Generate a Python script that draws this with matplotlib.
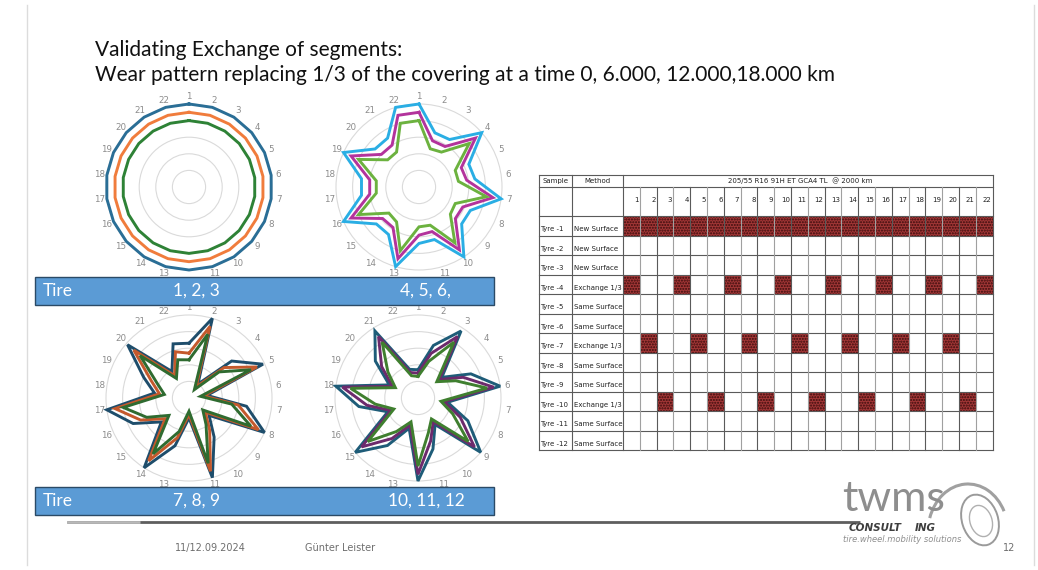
import numpy as np
import matplotlib
matplotlib.use("Agg")
import matplotlib.pyplot as plt
from matplotlib.patches import Rectangle, Circle, Ellipse, Arc

W, H = 1038, 570

# ---- data -------------------------------------------------------------
seg_labels = ["1", "2", "3", "4", "5", "6", "7", "8", "9", "10", "11",
              "12", "13", "14", "15", "16", "17", "18", "19", "20", "21", "22"]

# tyres 1, 2, 3 (new surface)
t123_a = [5.0, 5.0, 5.0, 5.0, 5.0, 5.0, 5.0, 5.0, 5.0, 5.0, 5.0,
          5.0, 5.0, 5.0, 5.0, 5.0, 5.0, 5.0, 5.0, 5.0, 5.0, 5.0]
t123_b = [4.5, 4.5, 4.5, 4.5, 4.5, 4.5, 4.5, 4.5, 4.5, 4.5, 4.5,
          4.5, 4.5, 4.5, 4.5, 4.5, 4.5, 4.5, 4.5, 4.5, 4.5, 4.5]
t123_c = [4.0, 4.0, 4.0, 4.0, 4.0, 4.0, 4.0, 4.0, 4.0, 4.0, 4.0,
          4.0, 4.0, 4.0, 4.0, 4.0, 4.0, 4.0, 4.0, 4.0, 4.0, 4.0]

# tyres 4, 5, 6
t456_a = [5.0, 3.4, 3.4, 5.0, 3.3, 3.4, 5.0, 3.4, 3.4, 5.0, 3.3,
          3.4, 5.0, 3.4, 3.4, 5.0, 3.5, 3.5, 5.0, 3.5, 3.5, 5.0]
t456_b = [4.5, 2.9, 2.9, 4.5, 2.8, 2.9, 4.5, 2.9, 2.9, 4.5, 2.8,
          2.9, 4.5, 2.9, 2.9, 4.5, 3.0, 3.0, 4.5, 3.0, 3.0, 4.5]
t456_c = [4.0, 2.4, 2.5, 4.0, 2.4, 2.4, 4.1, 2.4, 2.5, 4.0, 2.4,
          2.4, 4.0, 2.5, 2.4, 4.0, 2.6, 2.6, 4.0, 2.5, 2.5, 4.0]

# tyres 7, 8, 9
t789_a = [3.3, 5.0, 1.0, 3.4, 4.9, 1.1, 3.5, 5.0, 1.6, 2.8, 5.0,
          1.2, 3.0, 5.0, 2.2, 3.7, 5.0, 2.1, 3.0, 4.9, 1.9, 3.4]
t789_b = [2.7, 4.5, 0.8, 2.8, 4.5, 0.9, 3.0, 4.6, 1.3, 2.3, 4.6,
          1.0, 2.5, 4.5, 1.9, 3.2, 4.5, 1.8, 2.5, 4.4, 1.6, 2.9]
t789_c = [2.3, 4.0, 0.6, 2.4, 4.1, 0.7, 2.6, 4.1, 1.1, 1.9, 4.1,
          0.8, 2.1, 4.0, 1.6, 2.8, 4.0, 1.5, 2.1, 3.9, 1.4, 2.4]

# tyres 10, 11, 12
t101112_a = [1.7, 3.3, 4.8, 1.9, 3.5, 5.0, 1.8, 3.3, 5.0, 1.9, 3.2,
             5.0, 1.9, 3.4, 5.0, 2.0, 3.6, 5.0, 1.9, 3.4, 4.8, 1.8]
t101112_b = [1.5, 2.8, 4.4, 1.7, 3.0, 4.6, 1.6, 2.8, 4.5, 1.7, 2.7,
             4.6, 1.7, 2.9, 4.5, 1.8, 3.1, 4.6, 1.7, 2.9, 4.4, 1.6]
t101112_c = [1.3, 2.3, 4.0, 1.5, 2.5, 4.2, 1.4, 2.3, 4.0, 1.5, 2.2,
             4.1, 1.5, 2.4, 4.0, 1.6, 2.6, 4.1, 1.5, 2.4, 4.0, 1.4]

rings = [1, 2, 3, 4, 5]

# table
samples = ["Tyre -1", "Tyre -2", "Tyre -3", "Tyre -4", "Tyre -5", "Tyre -6",
           "Tyre -7", "Tyre -8", "Tyre -9", "Tyre -10", "Tyre -11", "Tyre -12"]
methods = ["New Surface", "New Surface", "New Surface", "Exchange 1/3",
           "Same Surface", "Same Surface", "Exchange 1/3", "Same Surface",
           "Same Surface", "Exchange 1/3", "Same Surface", "Same Surface"]
marked = [
    [1, 2, 3, 4, 5, 6, 7, 8, 9, 10, 11, 12, 13, 14, 15, 16, 17, 18, 19, 20, 21, 22],
    [], [],
    [1, 4, 7, 10, 13, 16, 19, 22],
    [], [],
    [2, 5, 8, 11, 14, 17, 20],
    [], [],
    [3, 6, 9, 12, 15, 18, 21],
    [], [],
]
spec = "205/55 R16 91H ET GCA4 TL  @ 2000 km"

# ---- figure -----------------------------------------------------------
fig = plt.figure(figsize=(W / 100, H / 100), dpi=100)
fig.patch.set_facecolor("white")

R_PX = 83.0   # pixel radius of value 5


def radar(cx, cy, series, colors, lw=2.1):
    L = 100
    ax = fig.add_axes([(cx - L) / W, 1 - (cy + L) / H, 2 * L / W, 2 * L / H])
    lim = L / R_PX * 5
    ax.set_xlim(-lim, lim)
    ax.set_ylim(-lim, lim)
    ax.axis("off")
    ang = np.arange(len(seg_labels)) * 2 * np.pi / len(seg_labels)
    for r in rings:
        ax.add_patch(Circle((0, 0), r, fill=False, ec="#dadada", lw=0.8))
    for s, c in zip(series, colors):
        v = np.array(s)
        x = np.append(v * np.sin(ang), v[0] * np.sin(ang[0]))
        y = np.append(v * np.cos(ang), v[0] * np.cos(ang[0]))
        ax.plot(x, y, color=c, lw=lw, solid_joinstyle="miter")
    for a, lab in zip(ang, seg_labels):
        if lab == "12":
            continue  # sits under the blue banner on the slide
        ax.text(5.45 * np.sin(a), 5.45 * np.cos(a), lab, ha="center",
                va="center", fontsize=6.3, color="#8c8c8c")
    return ax


radar(189, 187, [t123_a, t123_b, t123_c], ["#2a6e96", "#f07c3c", "#2e8236"])
radar(419, 187, [t456_a, t456_b, t456_c], ["#2aaee4", "#b3339c", "#6cb23f"])
radar(189, 398, [t789_a, t789_b, t789_c], ["#1e4d6b", "#c4592c", "#2f6b30"])
radar(418, 398, [t101112_a, t101112_b, t101112_c], ["#1e5c78", "#6c2a6c", "#3f7f2f"])

# ---- table ------------------------------------------------------------
tab = fig.add_axes([537 / W, 1 - 454 / H, (997 - 537) / W, (454 - 173) / H])
tab.set_xlim(537, 997)
tab.set_ylim(454, 173)
tab.axis("off")

x_s, x_m, x_0, cw = 539.0, 572.0, 623.0, 16.8
y_a, y_b, y_0, rh = 175.0, 187.0, 216.0, 19.5
n = len(seg_labels)
x_end = x_0 + n * cw
y_end = y_0 + len(samples) * rh
tf = ["Liberation Sans Narrow", "DejaVu Sans"]

for i, cells in enumerate(marked):
    for k in cells:
        tab.add_patch(Rectangle((x_0 + (k - 1) * cw, y_0 + i * rh), cw, rh,
                                facecolor="#a23636", edgecolor="#3a0c0c",
                                hatch="......", lw=0))

lc = "#5a5a5a"
tab.plot([x_s, x_end], [y_a, y_a], color=lc, lw=0.8)
tab.plot([x_s, x_end], [y_b, y_b], color=lc, lw=0.8)
for i in range(len(samples) + 1):
    tab.plot([x_s, x_end], [y_0 + i * rh, y_0 + i * rh], color=lc, lw=0.8)
tab.plot([x_s, x_s], [y_a, y_end], color=lc, lw=0.8)
tab.plot([x_m, x_m], [y_a, y_end], color=lc, lw=0.8)
for k in range(n + 1):
    top = y_a if k in (0, n) else y_b
    col = lc if k % 2 == 0 else "#a0a0a0"
    tab.plot([x_0 + k * cw, x_0 + k * cw], [top, y_end], color=col, lw=0.8)

tab.text((x_s + x_m) / 2, (y_a + y_b) / 2, "Sample", ha="center", va="center",
         fontsize=5, family=tf, color="#222222")
tab.text((x_m + x_0) / 2, (y_a + y_b) / 2, "Method", ha="center", va="center",
         fontsize=5, family=tf, color="#222222")
tab.text(800, (y_a + y_b) / 2, spec, ha="center", va="center",
         fontsize=5, family=tf, color="#222222")
for k, lab in enumerate(seg_labels):
    tab.text(x_0 + (k + 1) * cw - 1.2, 200, lab, ha="right", va="center",
             fontsize=5, family=tf, color="#222222")
for i, (s, m) in enumerate(zip(samples, methods)):
    yy = y_0 + i * rh + rh * 0.68
    tab.text(x_s + 1.5, yy, s, ha="left", va="center", fontsize=5,
             family=tf, color="#222222")
    tab.text(x_m + 1.5, yy, m, ha="left", va="center", fontsize=5,
             family=tf, color="#222222")

# ---- overlay: title, bars, footer, logo -------------------------------
ov = fig.add_axes([0, 0, 1, 1])
ov.set_zorder(10)
ov.patch.set_alpha(0)
ov.set_xlim(0, W)
ov.set_ylim(H, 0)
ov.axis("off")

ov.text(95, 50, "Validating Exchange of segments:", fontsize=15,
        family="Lato", va="center", color="#111111")
ov.text(95, 75, "Wear pattern replacing 1/3 of the covering at a time 0, "
        "6.000, 12.000,18.000 km", fontsize=15, family="Lato",
        va="center", color="#111111")

bars = [(277, "1, 2, 3", "4, 5, 6,", 400), (487, "7, 8, 9", "10, 11, 12", 388)]
for y, lab1, lab2, x2 in bars:
    ov.add_patch(Rectangle((35, y), 459, 28, facecolor="#5b9bd5",
                           edgecolor="#2b4a66", lw=1.0))
    ov.text(43, y + 14, "Tire", color="white", fontsize=12.5, family="Lato",
            va="center")
    ov.text(173, y + 14, lab1, color="white", fontsize=12.5, family="Lato",
            va="center")
    ov.text(x2, y + 14, lab2, color="white", fontsize=12.5, family="Lato",
            va="center")

# separator line
ov.plot([67, 860], [522, 522], color="#5e5e5e", lw=2.0, solid_capstyle="butt")
ov.plot([67, 140], [522, 522], color="#b8b8b8", lw=2.0, solid_capstyle="butt")

# slide border
ov.plot([27, 27], [5, 565], color="#dcdcdc", lw=1)
ov.plot([1034, 1034], [5, 565], color="#dcdcdc", lw=1)

# footer
ov.text(175, 548, "11/12.09.2024", fontsize=7, color="#6e6e6e", va="center")
ov.text(305, 548, "Günter Leister", fontsize=7, color="#6e6e6e", va="center")
ov.text(1003, 548, "12", fontsize=7, color="#6e6e6e", va="center")

# logo
ov.text(842, 511, "twms", fontsize=31, family="Lato", color="#8e8e8e",
        va="baseline")
ov.text(849, 528, "CONSULT", fontsize=7.5, style="italic", weight="bold",
        color="#3e3e3e", va="center")
ov.text(915, 528, "ING", fontsize=7.5, style="italic", weight="bold",
        color="#3e3e3e", va="center")
ov.text(843, 540, "tire.wheel.mobility solutions", fontsize=6, style="italic",
        color="#8e8e8e", va="center")
ov.add_patch(Ellipse((980, 520), 36, 52, angle=-18, fill=False,
                     ec="#9a9a9a", lw=1.4))
ov.add_patch(Ellipse((981, 521), 22, 32, angle=-18, fill=False,
                     ec="#b0b0b0", lw=1.0))
ov.add_patch(Arc((968, 532), 80, 96, angle=0, theta1=200, theta2=330,
                 ec="#a0a0a0", lw=2.2))

fig.savefig("out.png", dpi=100, facecolor="white")
